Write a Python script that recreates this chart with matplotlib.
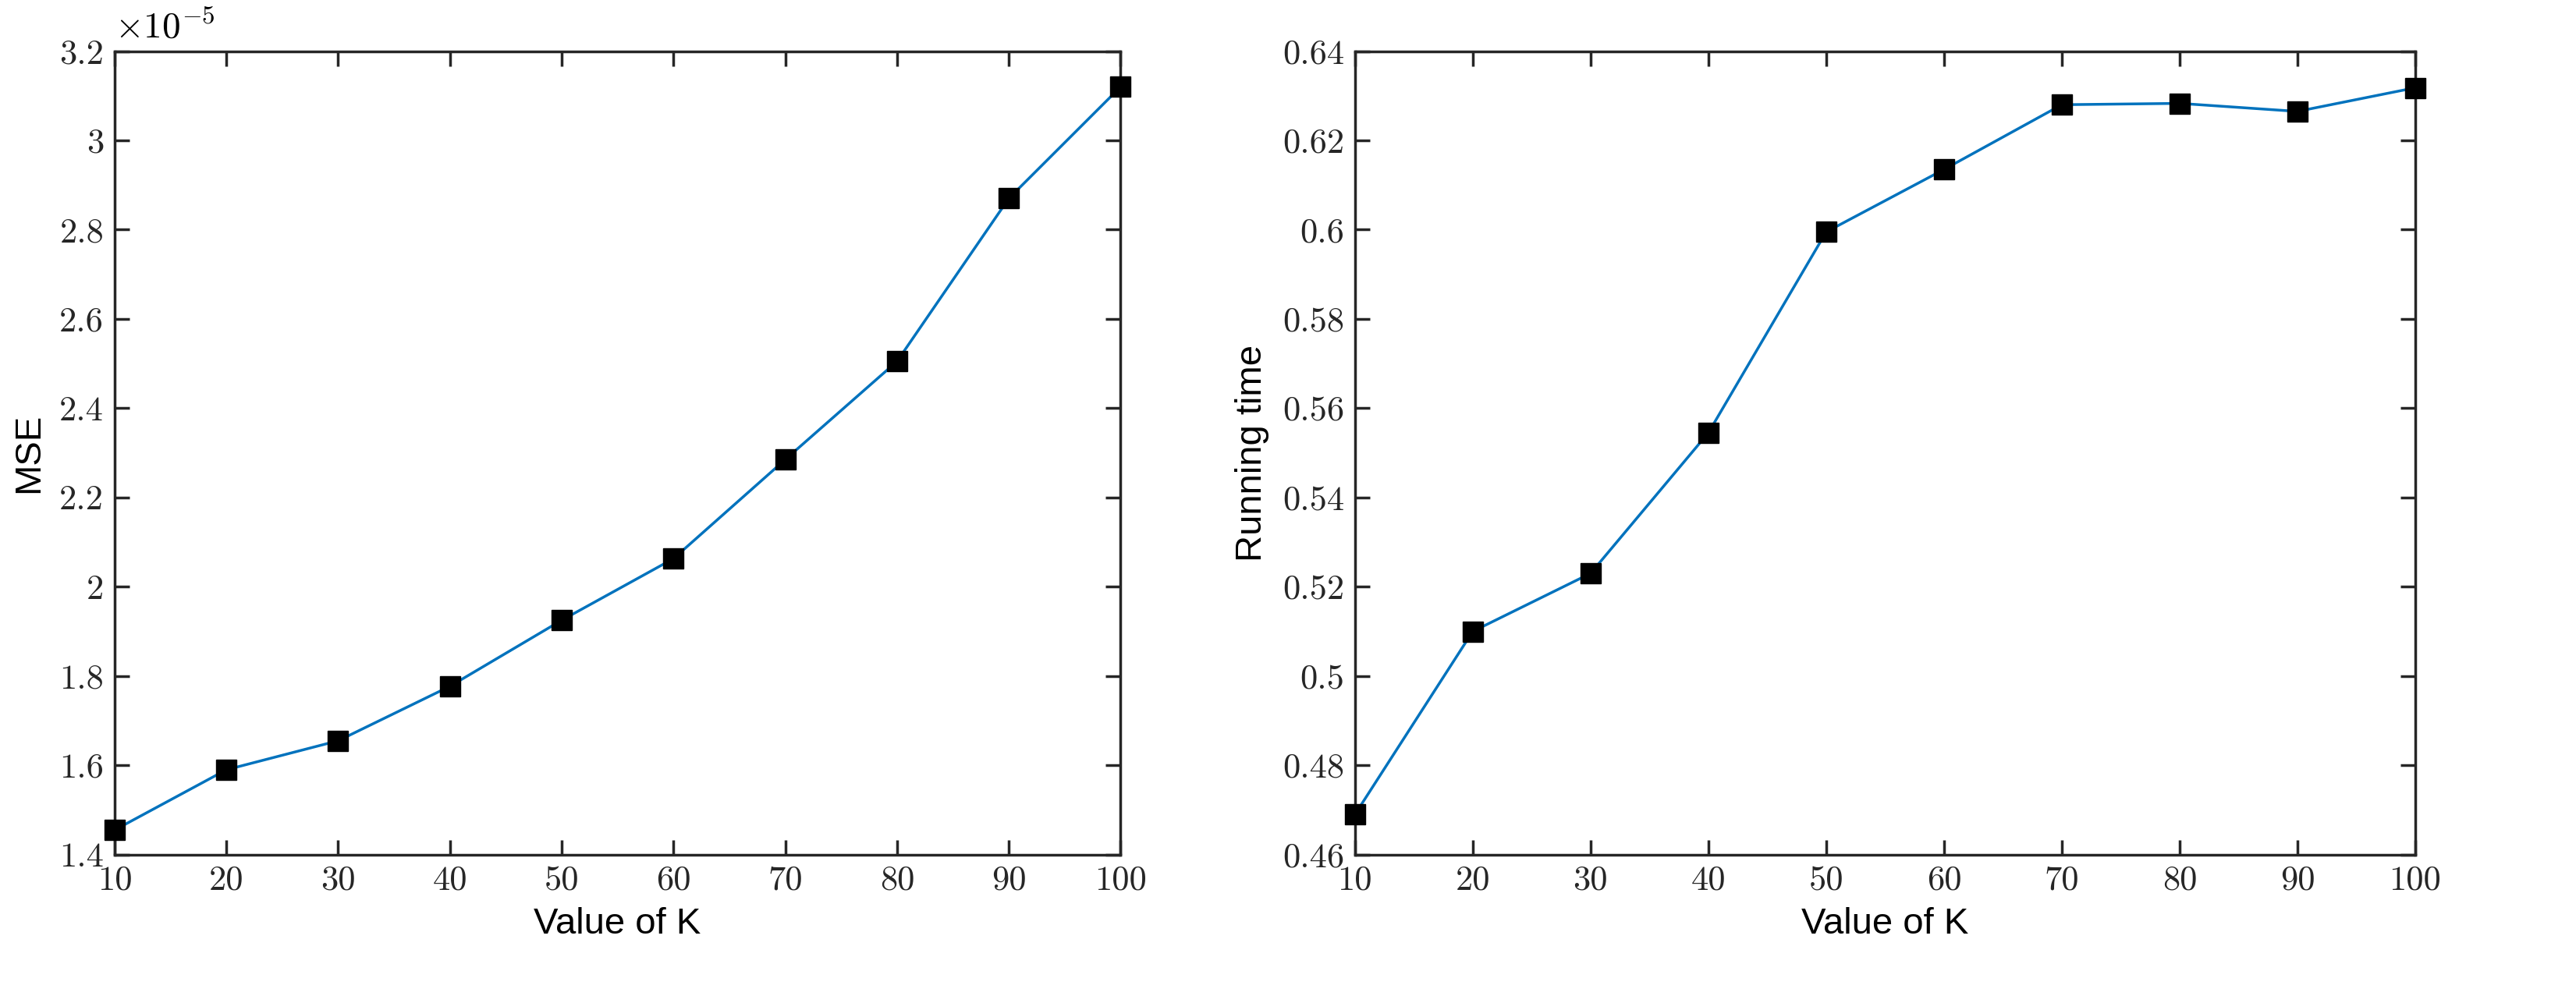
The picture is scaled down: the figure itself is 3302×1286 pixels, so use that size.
import matplotlib
matplotlib.use("Agg")
import matplotlib.pyplot as plt
import numpy as np

K = [10, 20, 30, 40, 50, 60, 70, 80, 90, 100]
mse = [1.455, 1.59, 1.655, 1.777, 1.925, 2.063, 2.285, 2.505, 2.87, 3.12]  # x1e-5
runtime = [0.469, 0.510, 0.523, 0.5545, 0.5995, 0.6135, 0.628, 0.6283, 0.6265, 0.6318]

plt.rcParams['mathtext.fontset'] = 'cm'
fig = plt.figure(figsize=(33.02, 12.86), dpi=100)
ax1 = fig.add_axes([0.0445, 0.148, 0.3905, 0.801])
ax2 = fig.add_axes([0.526, 0.148, 0.4116, 0.801])

color = '#0072BD'
tickfont = dict(family='cmr10', size=32)

def style(ax, data, yticks, ylabels, ylim, ylabel):
    ax.plot(K, data, color=color, lw=2.5, marker='s', markersize=19,
            markerfacecolor='black', markeredgecolor='black', clip_on=False, zorder=5)
    ax.set_xlim(10, 100)
    ax.set_ylim(*ylim)
    ax.set_xticks(K)
    ax.set_xticklabels([str(k) for k in K], fontdict=tickfont)
    ax.set_yticks(yticks)
    ax.set_yticklabels(ylabels, fontdict=tickfont)
    ax.tick_params(direction='in', length=14, width=2.5, top=True, right=True, pad=10, colors='#262626')
    for s in ax.spines.values():
        s.set_linewidth(2.5)
        s.set_color('#262626')
    ax.set_xlabel('Value of K', fontsize=34, family='Liberation Sans', labelpad=10)
    ax.set_ylabel(ylabel, fontsize=34, family='Liberation Sans', labelpad=12)

style(ax1, mse, [1.4, 1.6, 1.8, 2.0, 2.2, 2.4, 2.6, 2.8, 3.0, 3.2],
      ['1.4', '1.6', '1.8', '2', '2.2', '2.4', '2.6', '2.8', '3', '3.2'], (1.4, 3.2), 'MSE')
ax1.text(0.0, 1.008, r'$\times10^{-5}$', transform=ax1.transAxes, fontsize=34, va='bottom', ha='left')

style(ax2, runtime, [0.46, 0.48, 0.5, 0.52, 0.54, 0.56, 0.58, 0.6, 0.62, 0.64],
      ['0.46', '0.48', '0.5', '0.52', '0.54', '0.56', '0.58', '0.6', '0.62', '0.64'], (0.46, 0.64), 'Running time')

fig.savefig('out.png', dpi=100)
